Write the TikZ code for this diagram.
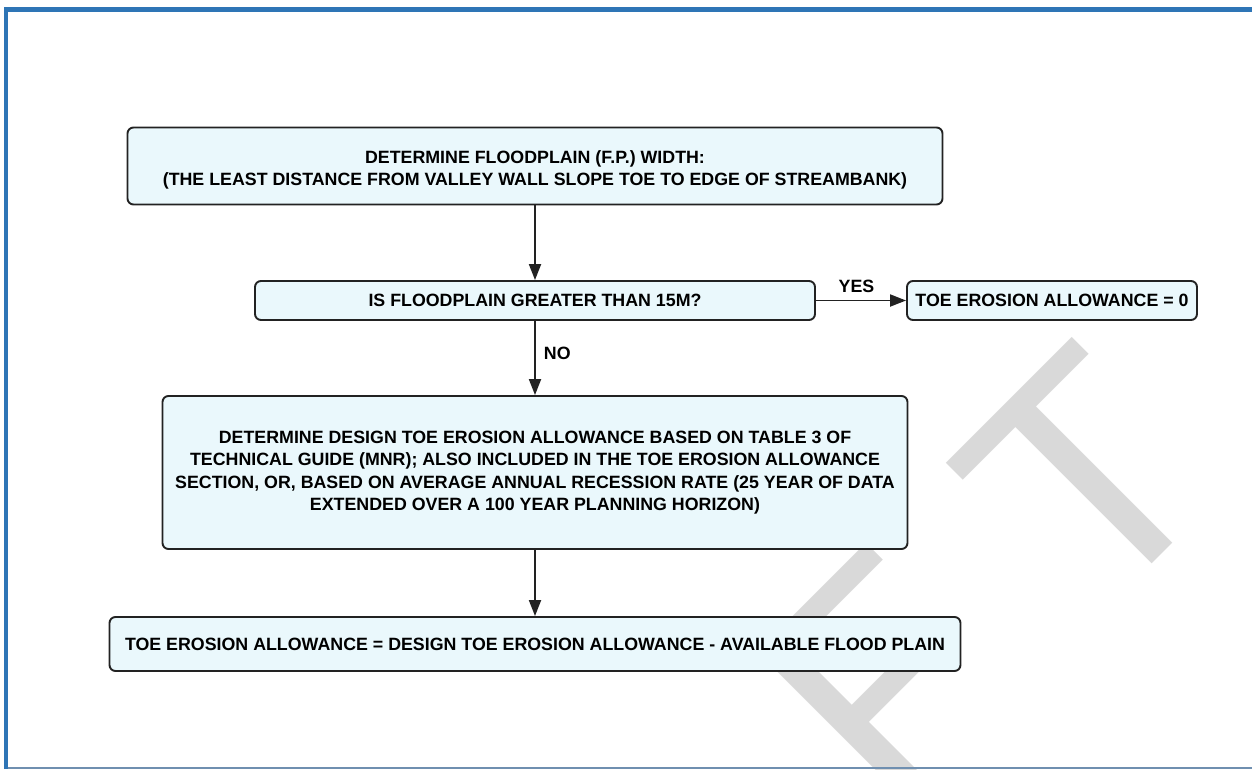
\documentclass[tikz,border=0pt]{standalone}
\usepackage{fontspec}
\setmainfont{Liberation Sans}
\usetikzlibrary{arrows.meta}
\definecolor{boxfill}{RGB}{234,248,252}
\definecolor{boxline}{RGB}{34,34,34}
\definecolor{frameblue}{RGB}{46,117,182}
\definecolor{framebottom}{RGB}{111,143,176}
\definecolor{wmgray}{RGB}{217,217,217}
\begin{document}
\begin{tikzpicture}[x=1pt,y=-1pt,
  flowbox/.style={draw=boxline, line width=1.9pt, fill=boxfill, rounded corners=6pt,
    font=\bfseries\fontsize{17.8}{22.3}\selectfont, align=center, inner sep=0pt},
  conn/.style={draw=boxline, line width=1.9pt, -{Triangle[length=16pt,width=12pt]}},
  lbl/.style={font=\bfseries\fontsize{17.8}{22.3}\selectfont, inner sep=0pt, text=black}]
\useasboundingbox (0,0) rectangle (1252,769);
\clip (0,0) rectangle (1252,769);
% watermark
\node[rotate=45, anchor=base east, inner sep=0pt, outer sep=0pt, text=wmgray,
  font=\fontsize{315}{315}\selectfont] (wm) at (1230.2,485.8)
  {D\kern92pt R\kern92pt A\kern92pt F\kern92pt T};
% boxes
\node[flowbox, minimum width=815pt, minimum height=77pt] (b1) at (535,166)
  {\rule{0pt}{21pt}DETERMINE FLOODPLAIN (F.P.) WIDTH:\\(THE LEAST DISTANCE FROM VALLEY WALL SLOPE TOE TO EDGE OF STREAMBANK)};
\node[flowbox, minimum width=560pt, minimum height=39pt] (b2) at (535,300.5)
  {IS FLOODPLAIN GREATER THAN 15M?};
\node[flowbox, minimum width=290pt, minimum height=39pt] (b3) at (1052,300.5)
  {TOE EROSION ALLOWANCE = 0};
\node[flowbox, minimum width=745pt, minimum height=153pt] (b4) at (535,472.5)
  {DETERMINE DESIGN TOE EROSION ALLOWANCE BASED ON TABLE 3 OF\\
   TECHNICAL GUIDE (MNR); ALSO INCLUDED IN THE TOE EROSION ALLOWANCE\\
   SECTION, OR, BASED ON AVERAGE ANNUAL RECESSION RATE (25 YEAR OF DATA\\
   EXTENDED OVER A 100 YEAR PLANNING HORIZON)};
\node[flowbox, minimum width=851pt, minimum height=54pt] (b5) at (535,644)
  {TOE EROSION ALLOWANCE = DESIGN TOE EROSION ALLOWANCE - AVAILABLE FLOOD PLAIN};
% connectors
\draw[conn] (b1.south) -- (b2.north);
\draw[conn] (b2.east) -- node[lbl, pos=0.45, above=7pt] (yes) {YES} (b3.west);
\draw[conn] (b2.south) -- node[lbl, pos=0.44, right=8pt] (no) {NO} (b4.north);
\draw[conn] (b4.south) -- (b5.north);
% frame
\draw[framebottom, line width=1.5pt] (4,768.2) -- (1252,768.2);
\draw[frameblue, line width=4.3pt, line join=miter] (6.15,769) -- (6.15,9.5) -- (1252,9.5);
\end{tikzpicture}
\end{document}
